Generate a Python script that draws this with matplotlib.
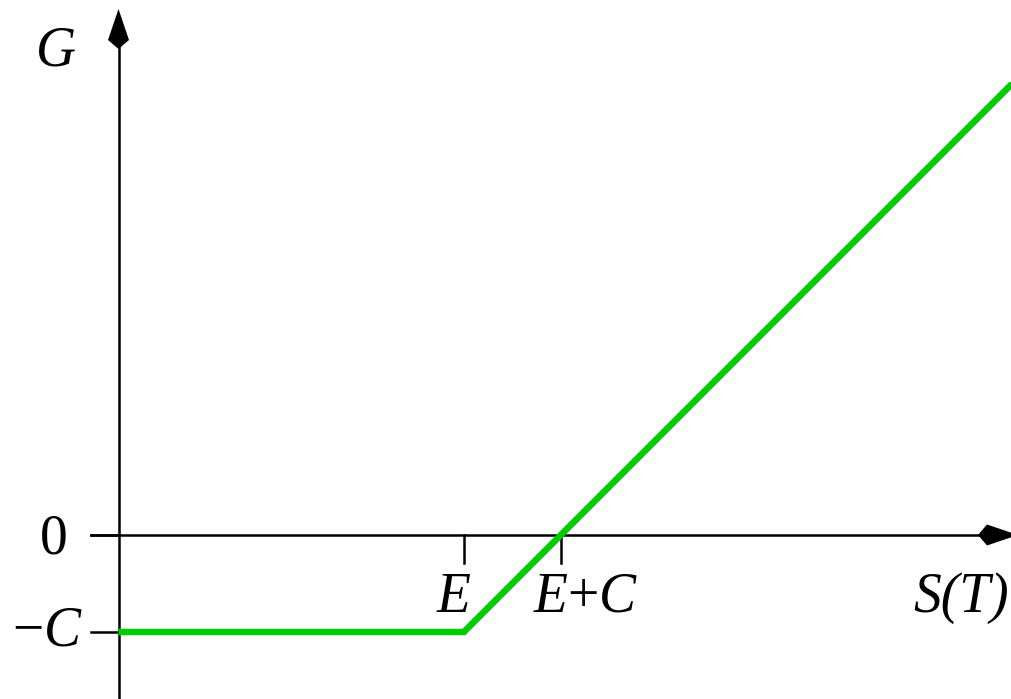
import matplotlib
matplotlib.use("Agg")
import matplotlib.pyplot as plt
from matplotlib.patches import Polygon

plt.rcParams["mathtext.fontset"] = "custom"
plt.rcParams["mathtext.rm"] = "Liberation Serif"
plt.rcParams["mathtext.it"] = "Liberation Serif:italic"

# payoff of a long call: strike E, premium C
E = 3.56
C = 1.0
s_vals = [0.0, E, 9.25]
g_vals = [max(s - E, 0.0) - C for s in s_vals]

x_ticks = [E, E + C]
x_labels = [r"$E$", r"$E{+}C$"]
y_ticks = [0.0, -C]
y_labels = ["0", r"${-}C$"]

px = 97.0  # pixels per unit
W, H = 1011, 699
x0_px, y0_px = 118.5, 535.0

fig = plt.figure(figsize=(W / 100, H / 100), dpi=100)
ax = fig.add_axes([0, 0, 1, 1])
ax.set_xlim(-x0_px / px, (W - x0_px) / px)
ax.set_ylim(-(H - y0_px) / px, y0_px / px)
ax.axis("off")

lw_axis = 1.8
font = dict(family="Liberation Serif", size=40)


def kite(tip, direction):
    # arrow head: tip, two wide corners, notch on the shaft
    a, b, hw = 31 / px, 9 / px, 10.5 / px
    tx, ty = tip
    if direction == "up":
        pts = [(tx, ty), (tx - hw, ty - a), (tx, ty - a - b), (tx + hw, ty - a)]
    else:
        pts = [(tx, ty), (tx - a, ty + hw), (tx - a - b, ty), (tx - a, ty - hw)]
    ax.add_patch(Polygon(pts, closed=True, color="black", lw=0, zorder=3))


# axes
ytop = (y0_px - 9) / px
xright = (1018 - x0_px) / px
tick_len = 27.5 / px
ax.plot([0, 0], [ax.get_ylim()[0], ytop - 0.3], color="black", lw=lw_axis, zorder=2)
ax.plot([-tick_len, xright - 0.3], [0, 0], color="black", lw=lw_axis, zorder=2)
kite((0, ytop), "up")
kite((xright, 0), "right")

# ticks
for yt in y_ticks:
    ax.plot([-tick_len, 0], [yt, yt], color="black", lw=lw_axis, zorder=2)
for xt in x_ticks:
    ax.plot([xt, xt], [0, -tick_len], color="black", lw=lw_axis, zorder=2)

# payoff line
ax.plot(s_vals, g_vals, color="#00cc00", lw=4.7, solid_joinstyle="miter",
        solid_capstyle="butt", zorder=4)

# labels
lab_y = -(612 - y0_px) / px
ax.text((454 - x0_px) / px, lab_y, x_labels[0], ha="center", va="baseline", **font)
ax.text((586 - x0_px) / px, lab_y, x_labels[1], ha="center", va="baseline", **font)
ax.text((961 - x0_px) / px, lab_y, "S(T)", ha="center", va="baseline",
        style="italic", **font)
ax.text((54 - x0_px) / px, -(553 - y0_px) / px, y_labels[0], ha="center",
        va="baseline", **font)
ax.text((47 - x0_px) / px, -(646 - y0_px) / px, y_labels[1], ha="center",
        va="baseline", **font)
ax.text((56 - x0_px) / px, (y0_px - 65) / px, "G", ha="center", va="baseline",
        style="italic", **font)

fig.savefig("out.png", dpi=100)
